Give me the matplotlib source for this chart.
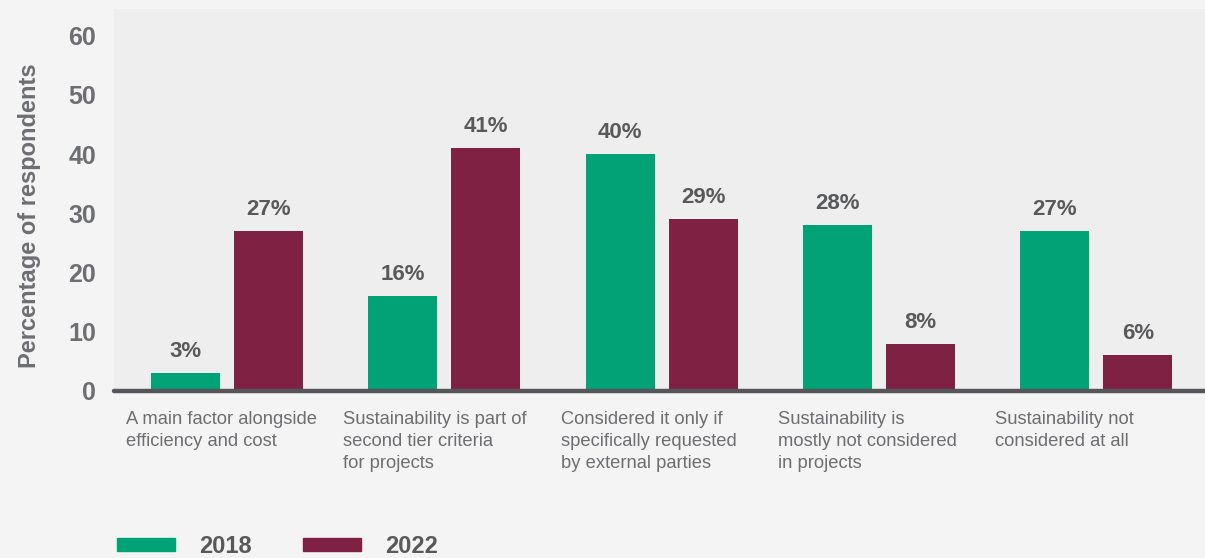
import numpy as np
import matplotlib
matplotlib.use("Agg")
import matplotlib.pyplot as plt
from matplotlib.patches import Patch

plt.rcParams['font.family'] = ['Liberation Sans', 'DejaVu Sans']

categories = [
    "A main factor alongside\nefficiency and cost",
    "Sustainability is part of\nsecond tier criteria\nfor projects",
    "Considered it only if\nspecifically requested\nby external parties",
    "Sustainability is\nmostly not considered\nin projects",
    "Sustainability not\nconsidered at all",
]
values_2018 = [3, 16, 40, 28, 27]
values_2022 = [27, 41, 29, 8, 6]
series_labels = ["2018", "2022"]
yticks = [0, 10, 20, 30, 40, 50, 60]

GREEN = "#00a276"
MAROON = "#7f2143"
TICK_GREY = "#6d6e71"
LABEL_GREY = "#58595b"

fig = plt.figure(figsize=(12.05, 5.58), dpi=100, facecolor="#f4f4f4")
ax = fig.add_axes([114 / 1205, 1 - 391 / 558, 1 - 114 / 1205, (391 - 9) / 558])
ax.set_facecolor("#eeeeee")

x = np.arange(len(categories))
width = 0.317
offset = 0.191
bars1 = ax.bar(x - offset, values_2018, width, color=GREEN, zorder=2)
bars2 = ax.bar(x + offset, values_2022, width, color=MAROON, zorder=2)

for bars, vals in ((bars1, values_2018), (bars2, values_2022)):
    for b, v in zip(bars, vals):
        ax.annotate(f"{v}%", (b.get_x() + b.get_width() / 2, v),
                    xytext=(0, 8), textcoords="offset points",
                    ha="center", va="bottom", fontsize=16, fontweight="bold",
                    color=LABEL_GREY)

ax.set_xlim(-0.52, 4.5)
ax.set_ylim(0, 64.5)
ax.set_yticks(yticks)
ax.set_yticklabels([str(t) for t in yticks], fontsize=18, fontweight="bold", color=TICK_GREY)
ax.tick_params(axis="y", length=0, pad=13)
ax.set_xticks([])

for s in ("top", "right", "left"):
    ax.spines[s].set_visible(False)
ax.spines["bottom"].set_color("#56565a")
ax.spines["bottom"].set_linewidth(3.2)
ax.spines["bottom"].set_capstyle("round")

ax.set_ylabel("Percentage of respondents", fontsize=17, fontweight="bold",
              color=TICK_GREY)
ax.yaxis.set_label_coords(-0.0665, 0.458)

trans = ax.get_xaxis_transform()
for xi, cat in zip(x, categories):
    ax.annotate(cat, (xi - 0.465, 0), xycoords=trans, xytext=(0, -14.5),
                textcoords="offset points", ha="left", va="top", fontsize=13.2,
                color=TICK_GREY, linespacing=1.38)

handles = [Patch(color=GREEN), Patch(color=MAROON)]
fig.legend(handles, series_labels, loc="lower left", bbox_to_anchor=(96 / 1205, -0.038),
           ncol=2, frameon=False, handlelength=2.45, handleheight=0.45,
           handletextpad=1.0, columnspacing=2.2,
           prop={"size": 17, "weight": "bold"}, labelcolor=LABEL_GREY)

fig.savefig("out.png", dpi=100, facecolor=fig.get_facecolor())
